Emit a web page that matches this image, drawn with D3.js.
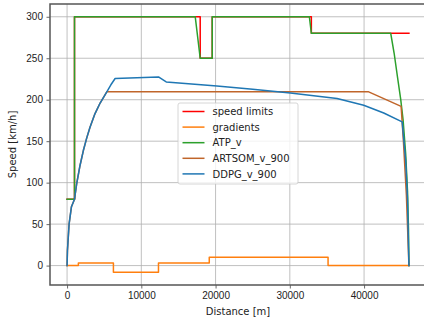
<!DOCTYPE html>
<html>
<head>
<meta charset="utf-8">
<script src="https://cdn.jsdelivr.net/npm/d3@7"></script>
<style>
  body { margin: 0; background: #fff; }
  svg { font-family: "DejaVu Sans", sans-serif; }
</style>
</head>
<body>
<div id="chart"></div>
<script>
// valori: [distanza m, velocità km/h]
const speedLimits = [[0, 80], [1000, 80], [1000, 300], [17930, 300], [17930, 250], [19550, 250],
  [19550, 300], [32900, 300], [32900, 280], [46040, 280]];
const gradients = [[0, 0], [1520, 0], [1520, 3], [6240, 3], [6240, -8], [12310, -8], [12310, 3],
  [19150, 3], [19150, 10], [35150, 10], [35150, 0], [46040, 0]];
const atpV = [[0, 80], [1000, 80], [1000, 300], [17260, 300], [17930, 250], [19550, 250], [19550, 300],
  [32630, 300], [32900, 280], [43590, 280], [44050, 256], [44490, 228], [44940, 200], [45260, 175],
  [45600, 135], [45850, 90], [45980, 45], [46040, 0]];
const artsomV = [[0, 0], [50, 18], [270, 50], [590, 71], [1000, 80], [1300, 99], [1750, 121],
  [2200, 139], [2650, 154], [3100, 167], [3750, 183], [4450, 196], [5350, 209.5], [40620, 209.5],
  [44990, 192], [45300, 150], [45700, 85], [46040, 0]];
const ddpgV = [[0, 0], [50, 18], [270, 50], [590, 71], [1000, 80], [1300, 99], [1750, 121],
  [2200, 139], [2650, 154], [3100, 167], [3750, 183], [4450, 196], [5350, 209.5], [5900, 218],
  [6470, 225.6], [12310, 227.4], [13350, 221.4], [20180, 216.6], [25000, 212.5], [30070, 208.2],
  [36360, 201.4], [39950, 193.3], [42650, 184], [45130, 173.2], [45610, 126], [45850, 80], [46040, 0]];

const xTicks = [0, 10000, 20000, 30000, 40000];
const yTicks = [0, 50, 100, 150, 200, 250, 300];

const series = [
  { name: "speed limits", data: speedLimits, color: "#ff0000" },
  { name: "gradients", data: gradients, color: "#ff7f0e" },
  { name: "ATP_v", data: atpV, color: "#2ca02c" },
  { name: "ARTSOM_v_900", data: artsomV, color: "#c0652a" },
  { name: "DDPG_v_900", data: ddpgV, color: "#1f77b4" }
];

const width = 424, height = 322;
const margin = { top: 4, right: -2, bottom: 37, left: 50 };
const innerWidth = width - margin.left - margin.right;
const innerHeight = height - margin.top - margin.bottom;

const svgRoot = d3.select("#chart").append("svg").attr("width", width).attr("height", height);
const svg = svgRoot.append("g").attr("transform", `translate(${margin.left},${margin.top})`);

const xScale = d3.scaleLinear().domain([-2300, 48340]).range([0, innerWidth]);
const yScale = d3.scaleLinear().domain([-23.4, 315.4]).range([innerHeight, 0]);

// Griglia
svg.append("g").selectAll("line").data(xTicks).enter().append("line")
  .attr("x1", d => xScale(d)).attr("x2", d => xScale(d))
  .attr("y1", 0).attr("y2", innerHeight)
  .attr("stroke", "#b0b0b0").attr("stroke-width", 0.8);
svg.append("g").selectAll("line").data(yTicks).enter().append("line")
  .attr("x1", 0).attr("x2", innerWidth)
  .attr("y1", d => yScale(d)).attr("y2", d => yScale(d))
  .attr("stroke", "#b0b0b0").attr("stroke-width", 0.8);

// Linee
const line = d3.line().x(d => xScale(d[0])).y(d => yScale(d[1]));
series.forEach(s => {
  svg.append("path").datum(s.data)
    .attr("d", line).attr("fill", "none")
    .attr("stroke", s.color).attr("stroke-width", 1.5)
    .attr("stroke-linejoin", "round").attr("stroke-linecap", "square");
});

// Assi
const xAxis = svg.append("g").attr("transform", `translate(0,${innerHeight})`)
  .call(d3.axisBottom(xScale).tickValues(xTicks).tickSize(3.5).tickPadding(3.5).tickFormat(d3.format("d")));
const yAxis = svg.append("g")
  .call(d3.axisLeft(yScale).tickValues(yTicks).tickSize(3.5).tickPadding(3.5));
[xAxis, yAxis].forEach(a => {
  a.select(".domain").remove();
  a.selectAll("line").attr("stroke", "#444").attr("stroke-width", 0.8);
  a.selectAll("text").attr("fill", "#222").style("font-size", "10px");
});

// Bordo
svg.append("rect").attr("x", 0).attr("y", 0).attr("width", innerWidth).attr("height", innerHeight)
  .attr("fill", "none").attr("stroke", "#555").attr("stroke-width", 1.5);

// Etichette
svg.append("text").attr("x", innerWidth / 2).attr("y", innerHeight + 30)
  .attr("text-anchor", "middle").style("font-size", "10px").attr("fill", "#222").text("Distance [m]");
svgRoot.append("text").attr("transform", `translate(16,${margin.top + innerHeight / 2}) rotate(-90)`)
  .attr("text-anchor", "middle").style("font-size", "10px").attr("fill", "#222").text("Speed [km/h]");

// Legenda
const legend = svgRoot.append("g").attr("transform", "translate(178,103)");
legend.append("rect").attr("width", 120).attr("height", 81).attr("rx", 2)
  .attr("fill", "#fff").attr("fill-opacity", 0.8).attr("stroke", "#cccccc").attr("stroke-width", 0.8);
series.forEach((s, i) => {
  const row = legend.append("g").attr("transform", `translate(0, ${8.5 + i * 15.6})`);
  row.append("line").attr("x1", 4.5).attr("x2", 26.5).attr("y1", 0).attr("y2", 0)
    .attr("stroke", s.color).attr("stroke-width", 1.5);
  row.append("text").attr("x", 34.5).attr("y", 3.6).style("font-size", "10px").attr("fill", "#222").text(s.name);
});
</script>
</body>
</html>
